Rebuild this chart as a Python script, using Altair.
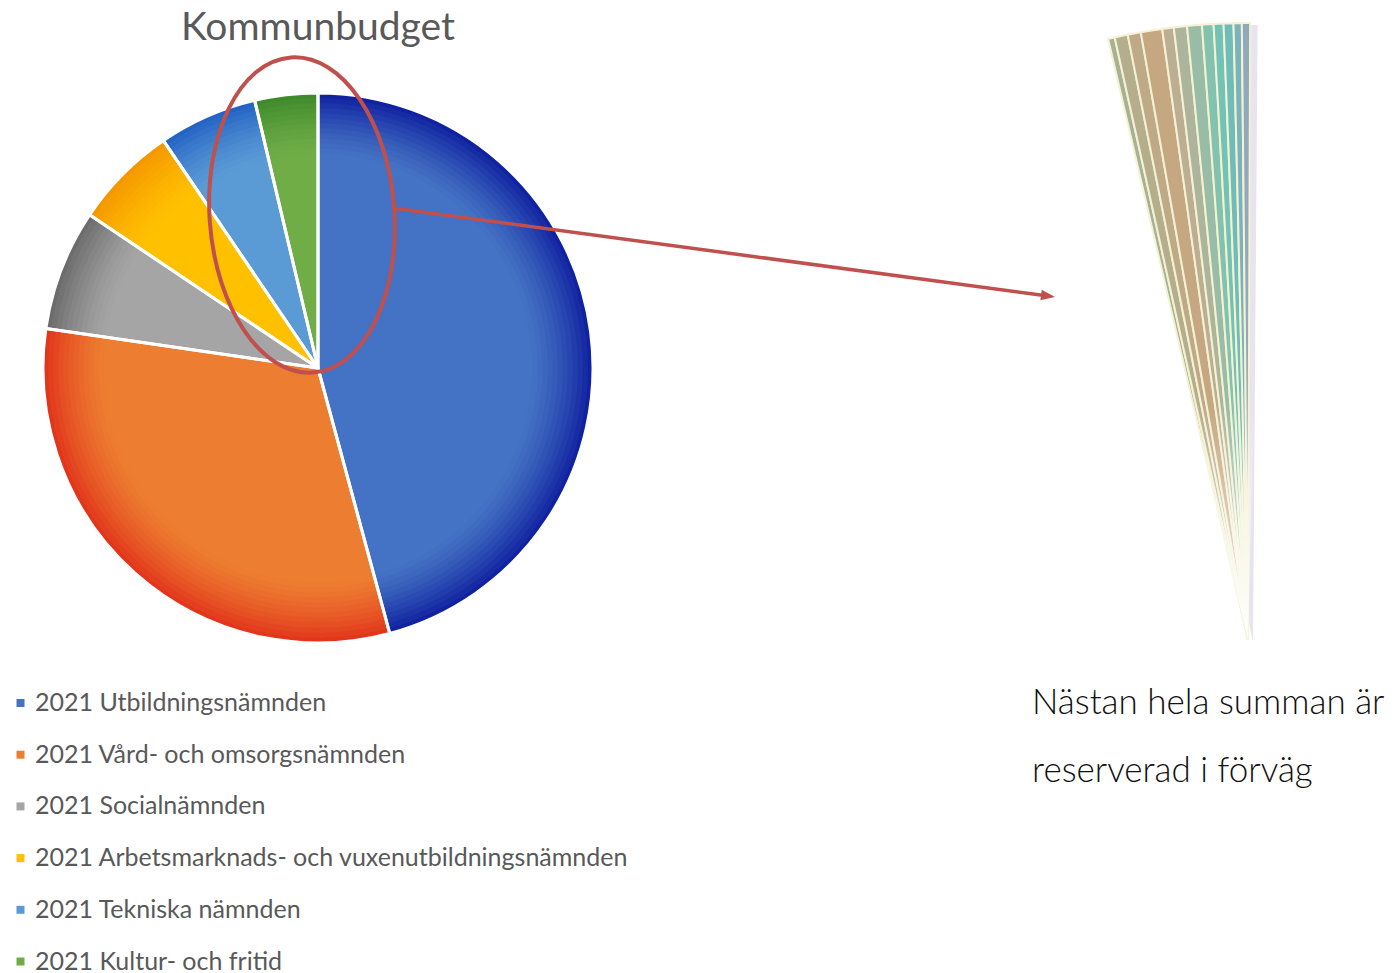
import math
import altair as alt
import pandas as pd

# ---------------- data ----------------
categories = [
    "2021 Utbildningsnämnden",
    "2021 Vård- och omsorgsnämnden",
    "2021 Socialnämnden",
    "2021 Arbetsmarknads- och vuxenutbildningsnämnden",
    "2021 Tekniska nämnden",
    "2021 Kultur- och fritid",
]
shares = [45.8, 31.5, 7.1, 6.1, 5.8, 3.7]

detail_ids = [f"post {i + 1}" for i in range(12)]
detail_values = [20, 40, 40, 65, 35, 40, 45, 35, 30, 30, 25, 25]

title_text = "Kommunbudget"
note_lines = ["Nästan hela summan är", "reserverad i förväg"]

# ---------------- styles ----------------
base_colors = ["#4472C4", "#ED7D31", "#A5A5A5", "#FFC000", "#5B9BD5", "#70AD47"]
edge_colors = ["#1022a0", "#e2361c", "#6c6c6c", "#f59800", "#2563c4", "#3f8a2c"]
detail_colors = ["#a8b194", "#b4ae8d", "#beaa87", "#c5a882", "#bcae93", "#acb59c",
                 "#98bca5", "#82c2ae", "#72c2b5", "#70bcb8", "#7cb3ba", "#90a9bb"]

W, H = 1384, 965
PX, PY, R = 310, 360, 275            # pie centre / radius
FX, FY, FR = 1240, 632, 617          # detail fan apex / radius
FA0, FA1 = 2 * math.pi - 0.2286, 2 * math.pi + 0.0035
RED = "#c0504d"
FONT = "Lato"


def mix(c1, c2, t):
    a = [int(c1[i:i + 2], 16) for i in (1, 3, 5)]
    b = [int(c2[i:i + 2], 16) for i in (1, 3, 5)]
    return "#" + "".join(f"{round(x + (y - x) * t):02x}" for x, y in zip(a, b))


pie_df = pd.DataFrame({"kategori": categories, "andel": shares, "ordning": list(range(len(shares)))})
fan_df = pd.DataFrame({"post": detail_ids, "varde": detail_values, "ordning": list(range(len(detail_values)))})
one = pd.DataFrame({"k": [0]})

pie_theta = alt.Theta("andel:Q", stack=True,
                      scale=alt.Scale(domain=[0, sum(shares)], range=[0, 2 * math.pi]))
centre = dict(x=alt.value(PX), y=alt.value(PY))

layers = []

# base pie with legend
layers.append(
    alt.Chart(pie_df).mark_arc(radius=R).encode(
        theta=pie_theta,
        color=alt.Color("kategori:N", scale=alt.Scale(domain=categories, range=base_colors),
                        sort=categories,
                        legend=alt.Legend(orient="none", legendX=0, legendY=682.5, title=None,
                                          symbolType="square", symbolSize=64, symbolStrokeWidth=0,
                                          labelFont=FONT, labelFontSize=25, labelColor="#595959",
                                          rowPadding=25.7, labelOffset=2, padding=0, labelLimit=900)),
        order=alt.Order("ordning:Q"),
        **centre,
    )
)

# radial shading bands toward the rim
NB = 12
F0 = 0.78
for i in range(NB):
    r_in = R * (F0 + (1 - F0) * i / NB)
    t = ((i + 1) / NB) ** 1.4
    cols = [mix(b, e, t) for b, e in zip(base_colors, edge_colors)]
    layers.append(
        alt.Chart(pie_df).mark_arc(radius=R, innerRadius=r_in).encode(
            theta=pie_theta,
            color=alt.Color("kategori:N", scale=alt.Scale(domain=categories, range=cols), legend=None),
            order=alt.Order("ordning:Q"),
            **centre,
        )
    )

# white separators
layers.append(
    alt.Chart(pie_df).mark_arc(radius=R, fillOpacity=0, stroke="white", strokeWidth=3).encode(
        theta=pie_theta, order=alt.Order("ordning:Q"), **centre,
    )
)

# red ellipse around the small slices
k = 0.5523
a = 0.585
ellipse_path = (f"M {a} 0 C {a} {k}, {a * k} 1, 0 1 C {-a * k} 1, {-a} {k}, {-a} 0 "
                f"C {-a} {-k}, {-a * k} -1, 0 -1 C {a * k} -1, {a} {-k}, {a} 0 Z")
layers.append(
    alt.Chart(one).mark_point(shape=ellipse_path, size=(2 * 158) ** 2, filled=False,
                              stroke=RED, strokeWidth=4, opacity=1, angle=356).encode(
        x=alt.value(294), y=alt.value(207)
    )
)

# arrow
layers.append(
    alt.Chart(one).mark_rule(color=RED, strokeWidth=3.5).encode(
        x=alt.value(384), y=alt.value(200), x2=alt.value(1040), y2=alt.value(288)
    )
)
layers.append(
    alt.Chart(one).mark_point(shape="M 1 0 L -1 -0.75 L -1 0.75 Z", size=196, filled=True,
                              color=RED, opacity=1, angle=7.6).encode(
        x=alt.value(1040), y=alt.value(288)
    )
)

# fan shadow
layers.append(
    alt.Chart(one).mark_arc(radius=FR, theta=FA0 + 0.02, theta2=FA1 + 0.004,
                            color="#c9c4dc", opacity=0.45).encode(
        x=alt.value(FX + 5), y=alt.value(FY + 2)
    )
)

# detail fan
fan_theta = alt.Theta("varde:Q", stack=True,
                      scale=alt.Scale(domain=[0, sum(detail_values)], range=[FA0, FA1]))
layers.append(
    alt.Chart(fan_df).mark_arc(radius=FR, stroke="#f4f1d4", strokeWidth=2).encode(
        theta=fan_theta,
        color=alt.Color("post:N", scale=alt.Scale(domain=detail_ids, range=detail_colors), legend=None),
        order=alt.Order("ordning:Q"),
        x=alt.value(FX), y=alt.value(FY),
    )
)

# fade toward apex
fade = alt.Gradient(
    gradient="linear", x1=0, y1=0, x2=0, y2=1,
    stops=[alt.GradientStop(color="rgba(255,255,255,0)", offset=0),
           alt.GradientStop(color="rgba(255,255,255,0)", offset=0.62),
           alt.GradientStop(color="rgba(255,255,255,0.5)", offset=0.85),
           alt.GradientStop(color="rgba(255,255,255,0.95)", offset=1)],
)
layers.append(
    alt.Chart(one).mark_arc(radius=FR + 3, theta=FA0 - 0.01, theta2=FA1 + 0.02, color=fade).encode(
        x=alt.value(FX), y=alt.value(FY)
    )
)

# texts
layers.append(
    alt.Chart(pd.DataFrame({"t": [title_text]})).mark_text(
        font=FONT, fontSize=39, color="#595959", align="center", baseline="alphabetic"
    ).encode(text="t:N", x=alt.value(310), y=alt.value(32))
)
layers.append(
    alt.Chart(pd.DataFrame({"t": note_lines, "rad": [0, 1]})).mark_text(
        font=FONT, fontSize=35, fontWeight=300, color="#111111", align="left", baseline="alphabetic"
    ).encode(text="t:N", x=alt.value(1024),
             y=alt.Y("rad:Q", scale=alt.Scale(domain=[0, 1], range=[706, 774]), axis=None))
)

chart = (
    alt.layer(*layers)
    .resolve_scale(theta="independent", color="independent")
    .properties(width=W, height=H, padding=0, autosize="none")
    .configure_view(stroke=None)
)

chart.save("out.html", embed_options={"renderer": "svg", "actions": False})
